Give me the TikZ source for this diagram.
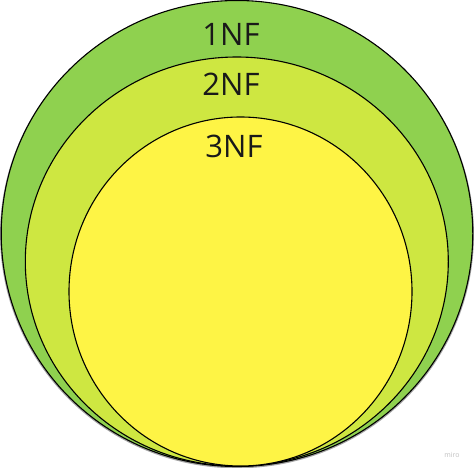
\documentclass[tikz,border=0pt]{standalone}
\usepackage{fontspec}
\setmainfont{Open Sans}
\definecolor{outergreen}{HTML}{8FD14F}
\definecolor{midgreen}{HTML}{CEE741}
\definecolor{inneryellow}{HTML}{FEF445}
\begin{document}
\begin{tikzpicture}[x=1pt,y=-1pt,
  ring/.style={draw=black,line width=1.1pt},
  lbl/.style={font=\fontsize{31}{31}\selectfont,text=black!90,inner sep=0pt}]
\useasboundingbox (0,0) rectangle (474,468);
\fill[black!70,opacity=0.5] (237,234.5) ellipse [x radius=237,y radius=233.8];
\path[ring,fill=outergreen] (237,233.5) ellipse [x radius=235.8,y radius=233];
\path[ring,fill=midgreen] (236.8,261.5) ellipse [x radius=211.5,y radius=204.5];
\path[ring,fill=inneryellow] (240.5,291.5) ellipse [x radius=171.5,y radius=174.5];
\node[lbl] (n1) at (231,34) {1NF};
\node[lbl] (n2) at (231,84) {2NF};
\node[lbl] (n3) at (234,146) {3NF};
\node[font=\fontsize{7}{7}\selectfont,text=black!25] (miro) at (452,455) {miro};
\end{tikzpicture}
\end{document}
